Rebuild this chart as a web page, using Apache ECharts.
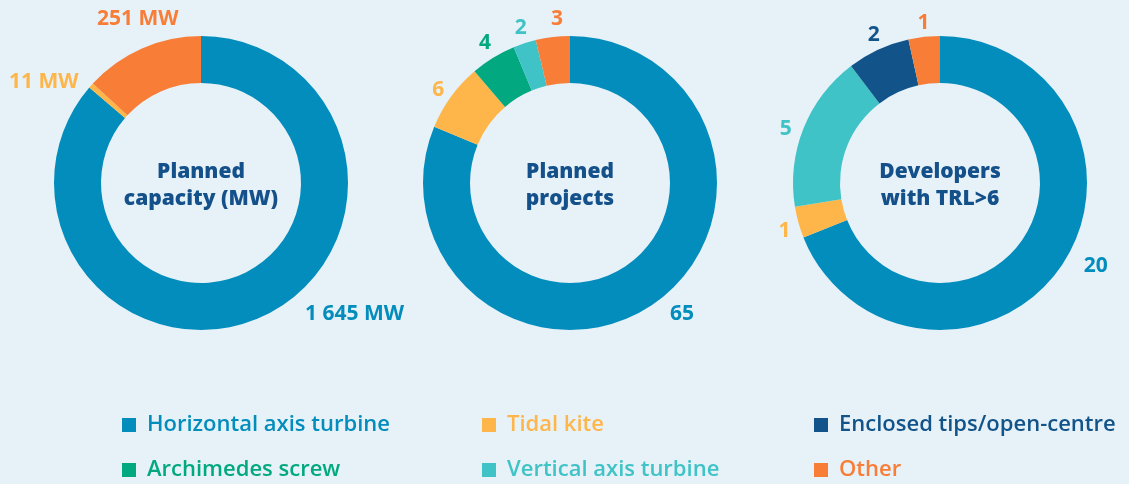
<!DOCTYPE html>
<html>
<head>
<meta charset="utf-8">
<script src="https://cdn.jsdelivr.net/npm/echarts@6/dist/echarts.min.js"></script>
<style>
html,body{margin:0;padding:0;background:#e6f1f8;}
#c{width:1129px;height:484px;}
</style>
</head>
<body>
<div id="c"></div>
<script>
// ---- data ----
const capacityNames = ['Horizontal axis turbine', 'Tidal kite', 'Other'];
const capacityValues = [1645, 11, 251];
const projectNames = ['Horizontal axis turbine', 'Tidal kite', 'Archimedes screw', 'Vertical axis turbine', 'Other'];
const projectValues = [65, 6, 4, 2, 3];
const developerNames = ['Horizontal axis turbine', 'Tidal kite', 'Vertical axis turbine', 'Enclosed tips/open-centre', 'Other'];
const developerValues = [20, 1, 5, 2, 1];
const chartTitles = ['Planned\ncapacity (MW)', 'Planned\nprojects', 'Developers\nwith TRL>6'];
const legendItems = [
  'Horizontal axis turbine', 'Tidal kite', 'Enclosed tips/open-centre',
  'Archimedes screw', 'Vertical axis turbine', 'Other'
];

// ---- styles ----
const colors = {
  'Horizontal axis turbine': '#028dbc',
  'Tidal kite': '#feb64a',
  'Enclosed tips/open-centre': '#12548a',
  'Archimedes screw': '#02a87f',
  'Vertical axis turbine': '#3fc3c7',
  'Other': '#f87d37'
};
const titleColor = '#14508a';
const FONT = '"Open Sans", sans-serif';
const centers = [[201, 183], [570, 183], [940, 183]];
const legendLefts = [122, 482, 814];
const legendTops = [413, 458];
// label offsets (dx, dy) relative to default outside placement
const labelOffsets = [
  [[35, -8], [-3, 1], [44, -24]],
  [[10, 4], [3, -3], [6, -10], [9, -9], [16, -12]],
  [[12, -3], [3, 7], [-1, 3], [9, -9], [11, -8]]
];

function fmtThousands(v) {
  return String(v).replace(/\B(?=(\d{3})+(?!\d))/g, ' ');
}

function makeData(names, values) {
  return names.map((n, i) => ({
    name: n, value: values[i],
    itemStyle: { color: colors[n] },
    label: { color: colors[n] }
  }));
}

function makeSeries(idx, names, values, unit) {
  return {
    type: 'pie',
    center: centers[idx],
    radius: [100, 147],
    startAngle: 90,
    clockwise: true,
    avoidLabelOverlap: false,
    animation: false,
    emphasis: { disabled: true },
    label: {
      show: true,
      position: 'outside',
      formatter: p => fmtThousands(p.value) + unit,
      fontFamily: FONT,
      fontWeight: 'bold',
      fontSize: 21
    },
    labelLine: { show: false, length: 6, length2: 0 },
    labelLayout: function (p) {
      const o = labelOffsets[idx][p.dataIndex];
      return { dx: o[0], dy: o[1] };
    },
    data: makeData(names, values)
  };
}

const chart = echarts.init(document.getElementById('c'), null, { renderer: 'canvas' });
chart.setOption({
  backgroundColor: '#e6f1f8',
  animation: false,
  title: chartTitles.map((t, i) => ({
    text: t,
    left: centers[i][0],
    top: centers[i][1] - 24,
    padding: 0,
    textAlign: 'center',
    textStyle: { fontFamily: FONT, fontWeight: 800, fontSize: 21, lineHeight: 27, color: titleColor }
  })),
  legend: legendItems.map((n, i) => ({
    orient: 'horizontal',
    left: legendLefts[i % 3],
    top: legendTops[Math.floor(i / 3)],
    padding: 0,
    itemWidth: 14,
    itemHeight: 14,
    icon: 'rect',
    selectedMode: false,
    data: [{ name: n, textStyle: { color: colors[n] } }],
    textStyle: { fontFamily: FONT, fontSize: 22, fontWeight: 600, lineHeight: 24, padding: [0, 0, 0, 6] }
  })),
  series: [
    makeSeries(0, capacityNames, capacityValues, ' MW'),
    makeSeries(1, projectNames, projectValues, ''),
    makeSeries(2, developerNames, developerValues, '')
  ]
});
</script>
</body>
</html>
